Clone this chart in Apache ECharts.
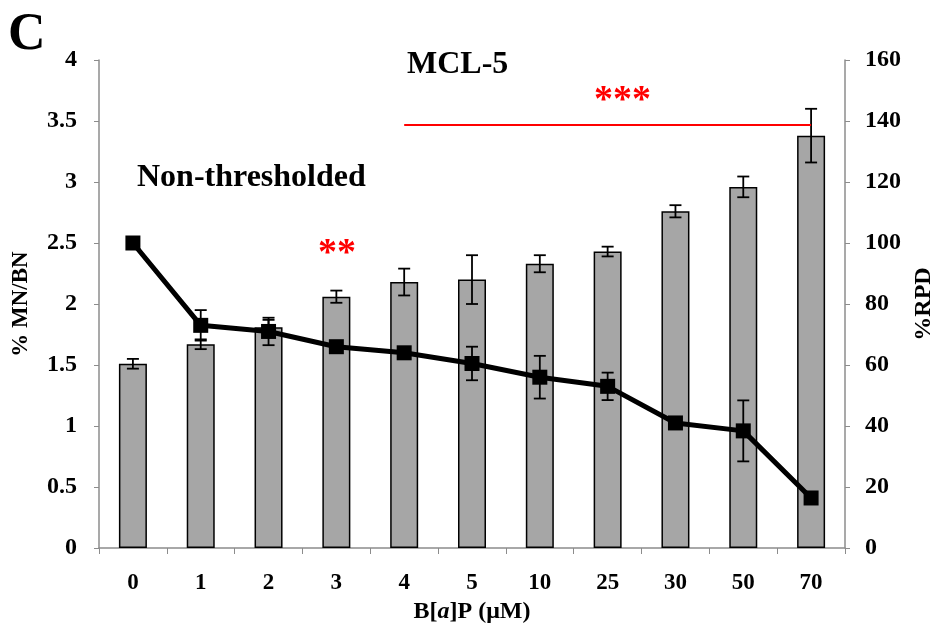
<!DOCTYPE html>
<html>
<head>
<meta charset="utf-8">
<script src="https://cdn.jsdelivr.net/npm/echarts@6/dist/echarts.min.js"></script>
<style>
  html, body { margin: 0; padding: 0; background: #fff; }
  #chart { width: 939px; height: 635px; }
</style>
</head>
<body>
<div id="chart"></div>
<script>
// doses on the x axis
let doses = ['0', '1', '2', '3', '4', '5', '10', '25', '30', '50', '70'];
// % MN/BN (bars, left axis) and its error
let mnbn = [1.51, 1.67, 1.81, 2.06, 2.18, 2.20, 2.33, 2.43, 2.76, 2.96, 3.38];
let mnbnErr = [0.04, 0.04, 0.06, 0.05, 0.11, 0.20, 0.07, 0.04, 0.05, 0.085, 0.22];
// %RPD (line, right axis) and its error
let rpd = [100, 73, 71, 66, 64, 60.5, 56, 53, 41, 38.4, 16.4];
let rpdErr = [0, 5, 4.5, 0, 0, 5.5, 7, 4.5, 0, 10, 0];

let font = '"Liberation Serif", "Times New Roman", serif';

function errData(vals, errs) {
    let out = [];
    for (let i = 0; i < vals.length; i++) {
        if (errs[i] > 0) out.push([i, vals[i] - errs[i], vals[i] + errs[i]]);
    }
    return out;
}

function errRender(params, api) {
    let lo = api.coord([api.value(0), api.value(1)]);
    let hi = api.coord([api.value(0), api.value(2)]);
    let w = 6;
    let st = { stroke: '#000', lineWidth: 1.8 };
    return {
        type: 'group',
        children: [
            { type: 'line', shape: { x1: lo[0], y1: lo[1], x2: hi[0], y2: hi[1] }, style: st },
            { type: 'line', shape: { x1: lo[0] - w, y1: lo[1], x2: lo[0] + w, y2: lo[1] }, style: st },
            { type: 'line', shape: { x1: hi[0] - w, y1: hi[1], x2: hi[0] + w, y2: hi[1] }, style: st }
        ]
    };
}

let myChart = echarts.init(document.getElementById('chart'));
let labelStyle = function (size) {
    return { fontFamily: font, fontWeight: 'bold', fontSize: size, color: '#000' };
};
let option = {
    backgroundColor: '#fff',
    animation: false,
    grid: { left: 99, right: 94, top: 60, bottom: 87, outerBoundsMode: 'none', containLabel: false },
    xAxis: {
        type: 'category',
        data: doses,
        axisLine: { lineStyle: { color: '#8c8c8c', width: 1.5 } },
        axisTick: { show: true, length: 6, lineStyle: { color: '#8c8c8c' } },
        axisLabel: Object.assign({ margin: 24 }, labelStyle(23)),
        name: '{n|B[}{i|a}{n|]P (μM)}',
        nameLocation: 'middle',
        nameGap: 44,
        nameTextStyle: {
            rich: {
                n: { fontFamily: font, fontWeight: 'bold', fontSize: 24, color: '#000' },
                i: { fontFamily: font, fontWeight: 'bold', fontStyle: 'italic', fontSize: 24, color: '#000' }
            }
        }
    },
    yAxis: [
        {
            type: 'value', min: 0, max: 4, interval: 0.5,
            axisLine: { show: true, lineStyle: { color: '#8c8c8c', width: 1.5 } },
            axisTick: { show: true, length: 5, lineStyle: { color: '#8c8c8c' } },
            splitLine: { show: false },
            axisLabel: Object.assign({ margin: 22 }, labelStyle(24)),
            name: '% MN/BN',
            nameLocation: 'middle',
            nameRotate: 90,
            nameGap: 66,
            nameTextStyle: labelStyle(23)
        },
        {
            type: 'value', min: 0, max: 160, interval: 20,
            position: 'right',
            axisLine: { show: true, lineStyle: { color: '#8c8c8c', width: 1.5 } },
            axisTick: { show: true, length: 5, lineStyle: { color: '#8c8c8c' } },
            splitLine: { show: false },
            axisLabel: Object.assign({ margin: 20 }, labelStyle(24)),
            name: '%RPD',
            nameLocation: 'middle',
            nameRotate: 90,
            nameGap: 61,
            nameTextStyle: labelStyle(24)
        }
    ],
    graphic: [
        { type: 'text', x: 8, y: 36, style: { text: 'C', fontFamily: font, fontWeight: 'bold', fontSize: 52, fill: '#000', verticalAlign: 'middle' } },
        { type: 'text', x: 407, y: 65, style: { text: 'MCL-5', fontFamily: font, fontWeight: 'bold', fontSize: 32, fill: '#000', verticalAlign: 'middle' } },
        { type: 'text', x: 137, y: 178, style: { text: 'Non-thresholded', fontFamily: font, fontWeight: 'bold', fontSize: 32, fill: '#000', verticalAlign: 'middle' } },
        { type: 'text', x: 318, y: 254, style: { text: '**', fontFamily: font, fontWeight: 'bold', fontSize: 38, fill: '#ff0000', verticalAlign: 'middle' } },
        { type: 'text', x: 594, y: 101, style: { text: '***', fontFamily: font, fontWeight: 'bold', fontSize: 38, fill: '#ff0000', verticalAlign: 'middle' } }
    ],
    series: [
        {
            name: '% MN/BN',
            type: 'bar',
            yAxisIndex: 0,
            data: mnbn,
            barWidth: 28,
            itemStyle: { color: '#a6a6a6', borderColor: '#000', borderWidth: 1.5 },
            z: 2,
            markLine: {
                silent: true,
                symbol: 'none',
                label: { show: false },
                lineStyle: { color: '#ff0000', width: 2, type: 'solid' },
                data: [[{ coord: ['4', 3.47] }, { coord: ['70', 3.47] }]]
            }
        },
        {
            name: 'bar err',
            type: 'custom',
            yAxisIndex: 0,
            renderItem: errRender,
            data: errData(mnbn, mnbnErr),
            z: 3
        },
        {
            name: 'rpd err',
            type: 'custom',
            yAxisIndex: 1,
            renderItem: errRender,
            data: errData(rpd, rpdErr),
            z: 4
        },
        {
            name: '%RPD',
            type: 'line',
            yAxisIndex: 1,
            data: rpd,
            symbol: 'rect',
            symbolSize: 15,
            lineStyle: { color: '#000', width: 5 },
            itemStyle: { color: '#000' },
            z: 5
        }
    ]
};
myChart.setOption(option);
</script>
</body>
</html>
